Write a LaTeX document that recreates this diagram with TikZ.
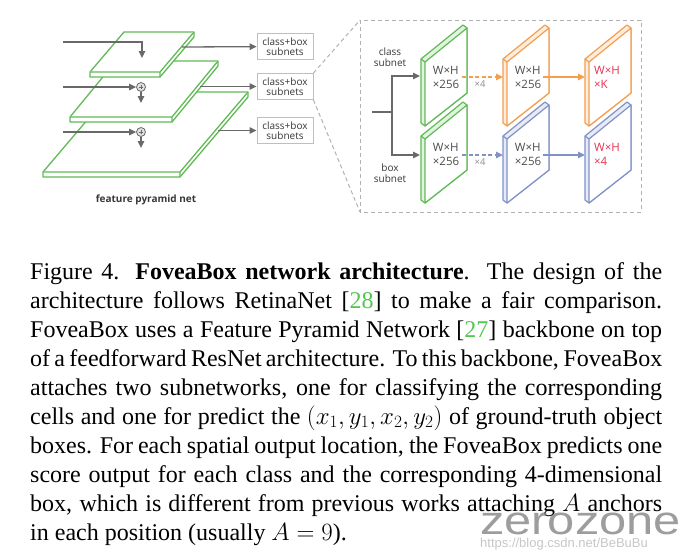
\documentclass[tikz,border=0pt]{standalone}
\usepackage{fontspec}
\setmainfont{Liberation Serif}
\newfontfamily\diag{Open Sans}
\newfontfamily\wmfont{Liberation Sans}
\usetikzlibrary{arrows.meta,calc}
\definecolor{pgreen}{RGB}{96,186,86}
\definecolor{porange}{RGB}{244,158,78}
\definecolor{pblue}{RGB}{128,146,200}
\definecolor{pred}{RGB}{228,52,82}
\definecolor{agray}{RGB}{105,105,105}
\definecolor{tgray}{RGB}{55,55,55}
\definecolor{citegreen}{RGB}{80,200,80}
\newcommand\fpnslab[6]{%
  \coordinate (#1fl) at (#2,#3);
  \coordinate (#1fr) at (#2+#4,#3);
  \coordinate (#1tl) at (#2+#5,#3-#6);
  \coordinate (#1tr) at (#2+#5+#4,#3-#6);
  \filldraw[plate] (#1fl) -- ++(0,5) -- ($(#1fr)+(0,5)$) -- ($(#1tr)+(0,5)$) -- (#1tr) -- (#1tl) -- cycle;
  \draw[plate] (#1fl) -- (#1fr) -- (#1tr) (#1fr) -- ++(0,5);
}
\newcommand\fbpanel[4]{%
  \filldraw[draw=#4, fill=#4!18, line width=1.2pt, line join=round] (#2-4,#3-3) -- (#2+38,#3-37) -- (#2+42,#3-34) -- (#2+42,#3+31) -- (#2,#3+64) -- (#2-4,#3+61) -- cycle;
  \draw[draw=#4, line width=1.2pt] (#2-4,#3-3) -- (#2,#3);
  \filldraw[draw=#4, fill=white, line width=1.2pt, line join=round] (#2,#3) -- (#2+42,#3-34) -- (#2+42,#3+31) -- (#2,#3+64) -- cycle;
  \coordinate (#1) at (#2+21,#3+15);
}
\begin{document}
\begin{tikzpicture}[x=1pt,y=-1pt,
  plate/.style={draw=pgreen, line width=1.3pt, fill=white, line join=round},
  garrow/.style={draw=agray, line width=1.3pt, -{Triangle[length=7pt,width=6.5pt]}},
  gline/.style={draw=agray, line width=1.3pt},
  subbox/.style={draw=black!25, line width=0.9pt, fill=white, minimum width=56pt, minimum height=26pt, inner sep=0pt, align=center, font=\diag\fontsize{10}{10.5}\selectfont, text=tgray},
  zoomdash/.style={draw=black!30, line width=1pt, dash pattern=on 4pt off 3pt},
  sumc/.style={circle, draw=agray, fill=black!12, minimum size=9pt, inner sep=0pt, line width=0.8pt},
  lbl/.style={font=\diag\fontsize{10}{11.5}\selectfont, text=tgray, align=center},
  wh/.style={font=\diag\fontsize{11.5}{14}\selectfont, align=left, text=black!70},
  whr/.style={font=\diag\fontsize{11.5}{14}\selectfont, align=left, text=pred},
  times/.style={font=\diag\fontsize{9.5}{10}\selectfont, text=black!45},
  oarrow/.style={draw=porange, line width=1.3pt, -{Triangle[length=7pt,width=6.5pt]}},
  barrow/.style={draw=pblue, line width=1.3pt, -{Triangle[length=7pt,width=6.5pt]}},
  dsh/.style={dash pattern=on 4pt off 2.5pt}
]
\useasboundingbox[fill=white] (0,0) rectangle (691,558);

% ---- feature pyramid (bottom to top)
\fpnslab{pb}{43}{172}{137}{68}{80}
\fpnslab{pm}{70}{117}{102}{46}{56}
\fpnslab{pt}{90}{72}{70}{34}{40}

% lateral / top-down arrows
\coordinate (in1) at (63,42);
\coordinate (in2) at (63,87);
\coordinate (in3) at (63,132);
\coordinate (dn1) at (142,58);
\node[sumc] (s1) at (141,87) {};
\node[sumc] (s2) at (141,132) {};
\foreach \s in {s1,s2}{
  \draw[agray, line width=0.7pt] ($(\s.center)+(-2.2,0)$) -- ($(\s.center)+(2.2,0)$) ($(\s.center)+(0,-2.2)$) -- ($(\s.center)+(0,2.2)$);
}
\coordinate (dn2) at (141,103);
\coordinate (dn3) at (141,148);
\draw[garrow] (in1) -| (dn1);
\draw[garrow] (in2) -- (s1);
\draw[garrow] (in3) -- (s2);
\draw[garrow] (s1) -- (dn2);
\draw[garrow] (s2) -- (dn3);

% subnet boxes
\node[subbox] (b1) at (285,46.5) {class+box\\subnets};
\node[subbox] (b2) at (285,86.5) {class+box\\subnets};
\node[subbox] (b3) at (285,130.5) {class+box\\subnets};
\coordinate (o1) at (182,47);
\coordinate (o2) at (200,86.5);
\coordinate (o3) at (218,130.5);
\draw[garrow] (o1) -- (b1);
\draw[garrow] (o2) -- (b2);
\draw[garrow] (o3) -- (b3);

\node[font=\diag\bfseries\fontsize{10}{11}\selectfont, text=tgray] (fpn) at (146,200) {feature pyramid net};

% ---- zoomed head
\coordinate (zt) at (360,20);
\coordinate (zb) at (360,212);
\coordinate (zr) at (641,212);
\draw[zoomdash] (zt) rectangle (zr);
\draw[zoomdash] (b2.north east) -- (zt);
\draw[zoomdash] (b2.south east) -- (zb);

\node[lbl] (cls) at (390,57) {class\\subnet};
\node[lbl] (box) at (390,173) {box\\subnet};

\fbpanel{g1}{425}{62}{pgreen}
\fbpanel{g2}{425}{139}{pgreen}
\fbpanel{o1p}{507}{62}{porange}
\fbpanel{b1p}{507}{139}{pblue}
\fbpanel{o2p}{589}{62}{porange}
\fbpanel{b2p}{589}{139}{pblue}

\node[wh] (tg1) at (g1) {W×H\\×256};
\node[wh] (tg2) at (g2) {W×H\\×256};
\node[wh] (to1) at (o1p) {W×H\\×256};
\node[wh] (tb1) at (b1p) {W×H\\×256};
\node[whr] (to2) at ($(o2p)+(-3,0)$) {W×H\\×K};
\node[whr] (tb2) at ($(b2p)+(-3,0)$) {W×H\\×4};

% branching input
\coordinate (hin) at (372,112);
\coordinate (hsp) at (392,112);
\coordinate (gin1) at (420,76);
\coordinate (gin2) at (420,155);
\draw[gline] (hin) -- (hsp);
\draw[garrow] (hsp) |- (gin1);
\draw[garrow] (hsp) |- (gin2);

% head arrows
\coordinate (a1s) at (462,77);  \coordinate (a1e) at (503,77);
\coordinate (a2s) at (543,77);  \coordinate (a2e) at (585,77);
\coordinate (a3s) at (462,155); \coordinate (a3e) at (503,155);
\coordinate (a4s) at (543,155); \coordinate (a4e) at (585,155);
\draw[oarrow, dsh] (a1s) -- (a1e);
\draw[oarrow] (a2s) -- (a2e);
\draw[barrow, dsh] (a3s) -- (a3e);
\draw[barrow] (a4s) -- (a4e);
\node[times] (x1) at (480,84) {×4};
\node[times] (x2) at (480,162) {×4};

% ---- caption
\node[anchor=base west, inner sep=0pt] (cap) at (30,279) {\begin{minipage}[t]{632pt}\fontsize{24}{29}\selectfont
\hbox to\linewidth{Figure 4. \textbf{FoveaBox network architecture}.\ \ The design of the}
\hbox to\linewidth{architecture follows RetinaNet [{\color{citegreen}28}] to make a fair comparison.}
\hbox to\linewidth{FoveaBox uses a Feature Pyramid Network [{\color{citegreen}27}] backbone on top}
\hbox to\linewidth{of a feedforward ResNet architecture. To this backbone, FoveaBox}
\hbox to\linewidth{attaches two subnetworks, one for classifying the corresponding}
\hbox to\linewidth{cells and one for predict the $(x_1,y_1,x_2,y_2)$ of ground-truth object}
\hbox to\linewidth{boxes. For each spatial output location, the FoveaBox predicts one}
\hbox to\linewidth{score output for each class and the corresponding 4-dimensional}
\hbox to\linewidth{box, which is different from previous works attaching $A$ anchors}
\hbox{in each position (usually $A=9$).}
\end{minipage}};

% ---- watermark
\node[anchor=base west, inner sep=0pt, text=black!45, opacity=0.85] (wm) at (480,534) {\scalebox{1.22}[1]{\wmfont\fontsize{40}{40}\selectfont zerozone}};
\node[anchor=base west, inner sep=0pt, text=black!22, font=\wmfont\fontsize{13}{13}\selectfont] (url) at (480,547) {https://blog.csdn.net/BeBuBu};
\end{tikzpicture}
\end{document}
